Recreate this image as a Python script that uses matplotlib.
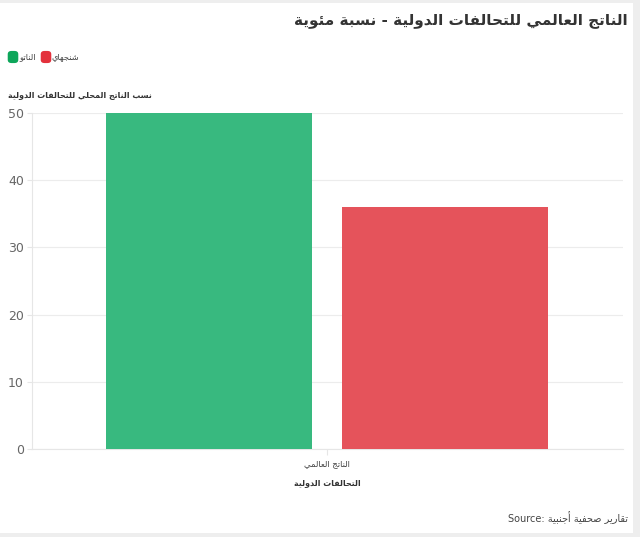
import matplotlib
matplotlib.use("Agg")
import matplotlib.pyplot as plt
from matplotlib.patches import Rectangle, FancyBboxPatch
import numpy as np

# ---------------- data ----------------
categories = ["الناتج العالمي"]
series_names = ["الناتو", "شنجهاي"]
nato_values = [50]
sco_values = [36]
y_ticks = [0, 10, 20, 30, 40, 50]
title_text = "الناتج العالمي للتحالفات الدولية - نسبة مئوية"
y_label_text = "نسب الناتج المحلي للتحالفات الدولية"
x_label_text = "التحالفات الدولية"
source_arabic = "تقارير صحفية أجنبية"
source_prefix = "Source:"

bar_colors = ["#38b97f", "#e5535b"]
legend_colors = ["#0da65a", "#e3313c"]

# ---------------- minimal Arabic shaping ----------------
F = {
    'ا': (0xFE8D, 0xFE8E, None, None), 'أ': (0xFE83, 0xFE84, None, None),
    'إ': (0xFE87, 0xFE88, None, None), 'آ': (0xFE81, 0xFE82, None, None),
    'ب': (0xFE8F, 0xFE90, 0xFE91, 0xFE92), 'ة': (0xFE93, 0xFE94, None, None),
    'ت': (0xFE95, 0xFE96, 0xFE97, 0xFE98), 'ث': (0xFE99, 0xFE9A, 0xFE9B, 0xFE9C),
    'ج': (0xFE9D, 0xFE9E, 0xFE9F, 0xFEA0), 'ح': (0xFEA1, 0xFEA2, 0xFEA3, 0xFEA4),
    'خ': (0xFEA5, 0xFEA6, 0xFEA7, 0xFEA8), 'د': (0xFEA9, 0xFEAA, None, None),
    'ذ': (0xFEAB, 0xFEAC, None, None), 'ر': (0xFEAD, 0xFEAE, None, None),
    'ز': (0xFEAF, 0xFEB0, None, None), 'س': (0xFEB1, 0xFEB2, 0xFEB3, 0xFEB4),
    'ش': (0xFEB5, 0xFEB6, 0xFEB7, 0xFEB8), 'ص': (0xFEB9, 0xFEBA, 0xFEBB, 0xFEBC),
    'ض': (0xFEBD, 0xFEBE, 0xFEBF, 0xFEC0), 'ط': (0xFEC1, 0xFEC2, 0xFEC3, 0xFEC4),
    'ظ': (0xFEC5, 0xFEC6, 0xFEC7, 0xFEC8), 'ع': (0xFEC9, 0xFECA, 0xFECB, 0xFECC),
    'غ': (0xFECD, 0xFECE, 0xFECF, 0xFED0), 'ف': (0xFED1, 0xFED2, 0xFED3, 0xFED4),
    'ق': (0xFED5, 0xFED6, 0xFED7, 0xFED8), 'ك': (0xFED9, 0xFEDA, 0xFEDB, 0xFEDC),
    'ل': (0xFEDD, 0xFEDE, 0xFEDF, 0xFEE0), 'م': (0xFEE1, 0xFEE2, 0xFEE3, 0xFEE4),
    'ن': (0xFEE5, 0xFEE6, 0xFEE7, 0xFEE8), 'ه': (0xFEE9, 0xFEEA, 0xFEEB, 0xFEEC),
    'و': (0xFEED, 0xFEEE, None, None), 'ؤ': (0xFE85, 0xFE86, None, None),
    'ى': (0xFEEF, 0xFEF0, None, None), 'ي': (0xFEF1, 0xFEF2, 0xFEF3, 0xFEF4),
    'ئ': (0xFE89, 0xFE8A, 0xFE8B, 0xFE8C),
}
LAMALEF = {'آ': (0xFEF5, 0xFEF6), 'أ': (0xFEF7, 0xFEF8),
           'إ': (0xFEF9, 0xFEFA), 'ا': (0xFEFB, 0xFEFC)}


def dual(c):
    return c in F and F[c][2] is not None


def shape(text):
    out = []
    i, n = 0, len(text)
    while i < n:
        c = text[i]
        if c not in F:
            out.append(c)
            i += 1
            continue
        prev = text[i - 1] if i > 0 else ''
        cp = dual(prev)
        if c == 'ل' and i + 1 < n and text[i + 1] in LAMALEF:
            iso, fin = LAMALEF[text[i + 1]]
            out.append(chr(fin if cp else iso))
            i += 2
            continue
        nxt = text[i + 1] if i + 1 < n else ''
        cn = dual(c) and nxt in F
        iso, fin, ini, med = F[c]
        if cp and cn:
            g = med
        elif cp:
            g = fin
        elif cn:
            g = ini
        else:
            g = iso
        out.append(chr(g))
        i += 1
    return ''.join(out)


def ar(text):
    return shape(text)[::-1]


# ---------------- figure ----------------
W, H = 640, 537
fig = plt.figure(figsize=(W / 100, H / 100), dpi=100, facecolor="#eeeeee")


def fx(x):
    return x / W


def fy(y):
    return 1 - y / H


fig.patches.append(Rectangle((0, fy(533)), fx(633), fy(3) - fy(533),
                             transform=fig.transFigure, facecolor="white",
                             edgecolor="none", zorder=-5))

ax = fig.add_axes([fx(32), fy(449), fx(622.5) - fx(32), fy(113) - fy(449)])
ax.set_facecolor("white")
ax.set_zorder(2)

x = np.arange(len(categories))
offset, width = 0.2, 0.349
ax.bar(x - offset, nato_values, width, color=bar_colors[0], zorder=3)
ax.bar(x + offset, sco_values, width, color=bar_colors[1], zorder=3)

ax.set_xlim(-0.5, len(categories) - 0.5)
ax.set_ylim(0, 50)
ax.set_yticks(y_ticks)
ax.set_yticklabels([str(t) for t in y_ticks], fontsize=9, color="#666666")
ax.set_xticks(x)
ax.set_xticklabels([ar(c) for c in categories], fontsize=6, color="#444444",
                   family="DejaVu Sans")
ax.tick_params(axis="y", length=3.6, color="#e6e6e6", pad=2.2)
ax.tick_params(axis="x", length=4, color="#e6e6e6", pad=3)
ax.grid(axis="y", color="#ececec", linewidth=0.8, zorder=0)
for s in ["top", "right"]:
    ax.spines[s].set_visible(False)
ax.spines["left"].set_color("#e6e6e6")
ax.spines["bottom"].set_color("#e6e6e6")

# title
fig.text(fx(628), fy(20), ar(title_text), ha="right", va="center",
         fontsize=11, fontweight="bold", color="#333333", family="DejaVu Sans")

# legend
lx = [8, 41]
for i, name in enumerate(series_names):
    fig.patches.append(FancyBboxPatch((fx(lx[i] + 1), fy(62)), fx(8), fy(52) - fy(62),
                                      boxstyle="round,pad=0.002,rounding_size=0.006",
                                      transform=fig.transFigure,
                                      facecolor=legend_colors[i], edgecolor="none"))
    fig.text(fx(lx[i] + 11), fy(57), ar(name), ha="left", va="center",
             fontsize=6, color="#444444", family="DejaVu Sans")

# y label
fig.text(fx(8), fy(95), ar(y_label_text), ha="left", va="center",
         fontsize=5.8, fontweight="bold", color="#333333", family="DejaVu Sans")

# x label
fig.text(fx(327), fy(483), ar(x_label_text), ha="center", va="center",
         fontsize=5.8, fontweight="bold", color="#333333", family="DejaVu Sans")

# source
fig.text(fx(628), fy(518), source_prefix + " " + ar(source_arabic), ha="right",
         va="center", fontsize=7, color="#444444", family="DejaVu Sans")

fig.savefig("out.png", dpi=100, facecolor=fig.get_facecolor())
